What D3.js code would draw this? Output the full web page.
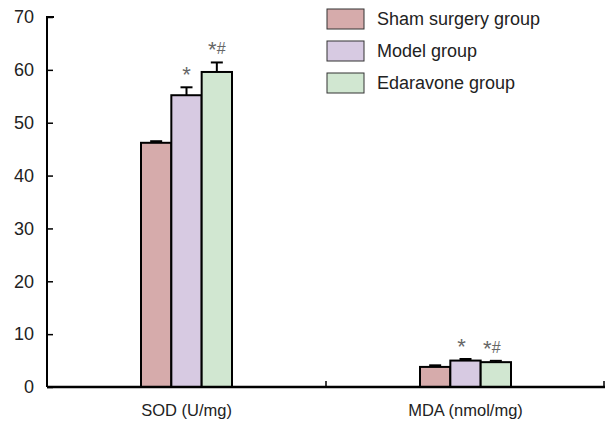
<!DOCTYPE html>
<html>
<head>
<meta charset="utf-8">
<script src="https://cdn.jsdelivr.net/npm/d3@7"></script>
<style>
  body { margin: 0; background: #fff; overflow: hidden; }
  svg { display: block; font-family: 'Liberation Sans', Arial, sans-serif; }
</style>
</head>
<body>
<div class="graph"></div>
<script>
var categories = ['SOD (U/mg)', 'MDA (nmol/mg)'];
var groupNames = ['Sham surgery group', 'Model group', 'Edaravone group'];
var colors = ['#d6abab', '#d7cae2', '#d1e7d1'];
var shamValues = [46.2, 3.8];
var modelValues = [55.2, 5.0];
var edaravoneValues = [59.6, 4.7];
var shamErrors = [0.3, 0.3];
var modelErrors = [1.5, 0.3];
var edaravoneErrors = [1.8, 0.25];
var marks = [['', '*', '*#'], ['', '*', '*#']];
var yTicks = [0, 10, 20, 30, 40, 50, 60, 70];

var width = 606, height = 421;
var plotLeft = 47, plotRight = 605, plotTop = 17, plotBottom = 387;

var svg = d3.select('.graph').append('svg')
  .attr('width', width)
  .attr('height', height);

var y = d3.scaleLinear().domain([0, 70]).range([plotBottom, plotTop]);
var x = d3.scaleBand().domain(categories).range([plotLeft, plotRight]);
var x1 = d3.scaleBand().domain(groupNames).range([0, 91]);

var series = [shamValues, modelValues, edaravoneValues];
var errors = [shamErrors, modelErrors, edaravoneErrors];

// bars
categories.forEach(function (c, ci) {
  var g = svg.append('g')
    .attr('transform', 'translate(' + (x(c) + x.bandwidth() / 2 - 45.5) + ',0)');
  groupNames.forEach(function (name, gi) {
    var v = series[gi][ci], e = errors[gi][ci];
    var bx = x1(name), bw = x1.bandwidth();
    // error bar
    g.append('line')
      .attr('x1', bx + bw / 2).attr('x2', bx + bw / 2)
      .attr('y1', y(v)).attr('y2', y(v + e))
      .attr('stroke', '#000').attr('stroke-width', 2);
    g.append('line')
      .attr('x1', bx + bw / 2 - 6).attr('x2', bx + bw / 2 + 6)
      .attr('y1', y(v + e)).attr('y2', y(v + e))
      .attr('stroke', '#000').attr('stroke-width', 2);
    g.append('rect')
      .attr('x', bx).attr('y', y(v))
      .attr('width', bw).attr('height', y(0) - y(v))
      .attr('fill', colors[gi])
      .attr('stroke', '#000').attr('stroke-width', 2);
    // significance marks: asterisk lowered to line up with the '#'
    var m = marks[ci][gi];
    if (m) {
      var t = g.append('text')
        .attr('x', bx + bw / 2 - (ci === 1 ? 4 : 0))
        .attr('y', y(v + e) - 8)
        .attr('text-anchor', 'middle')
        .attr('fill', '#666');
      var shift = 0;
      m.split('').forEach(function (ch) {
        var s = ch === '*' ? 3 : 0;
        t.append('tspan')
          .attr('dy', s - shift)
          .style('font-size', ch === '*' ? '22px' : '16px')
          .text(ch);
        shift = s;
      });
    }
  });
});

// y axis
var yAxis = d3.axisRight(y).tickValues(yTicks).tickSize(6).tickSizeOuter(0).tickFormat(d3.format('d'));
var yg = svg.append('g').attr('transform', 'translate(' + plotLeft + ',0)').call(yAxis);
yg.select('.domain').attr('stroke', '#000').attr('stroke-width', 2)
  .attr('d', 'M7,' + plotTop + 'H0V' + plotBottom);
yg.selectAll('.tick line').attr('stroke', '#000').attr('stroke-width', 1.5);
yg.selectAll('.tick text')
  .attr('x', -13).attr('text-anchor', 'end')
  .attr('fill', '#222').style('font-size', '18px');

// x axis
var xAxis = d3.axisTop(x).tickSize(0);
var xg = svg.append('g').attr('transform', 'translate(0,' + plotBottom + ')').call(xAxis);
xg.select('.domain').attr('stroke', '#000').attr('stroke-width', 2.5)
  .attr('d', 'M' + plotLeft + ',0H' + plotRight);
xg.selectAll('.tick text')
  .attr('y', 24).attr('dy', '0.32em')
  .attr('fill', '#222').style('font-size', '16.5px');
// boundary ticks between categories
xg.selectAll('.sep').data(x.domain().slice(1).concat(['end']))
  .enter().append('line')
  .attr('x1', function (d) { return d === 'end' ? plotRight - 1 : x(d); })
  .attr('x2', function (d) { return d === 'end' ? plotRight - 1 : x(d); })
  .attr('y1', 0).attr('y2', -6)
  .attr('stroke', '#000').attr('stroke-width', 1.5);

// legend
var legend = svg.append('g').attr('transform', 'translate(327,9)');
groupNames.forEach(function (name, i) {
  var row = legend.append('g').attr('transform', 'translate(0,' + (i * 32) + ')');
  row.append('rect')
    .attr('width', 37).attr('height', 20)
    .attr('fill', colors[i])
    .attr('stroke', '#333').attr('stroke-width', 1);
  row.append('text')
    .attr('x', 50).attr('y', 10).attr('dy', '0.35em')
    .attr('fill', '#222').style('font-size', '18px')
    .text(name);
});
</script>
</body>
</html>
